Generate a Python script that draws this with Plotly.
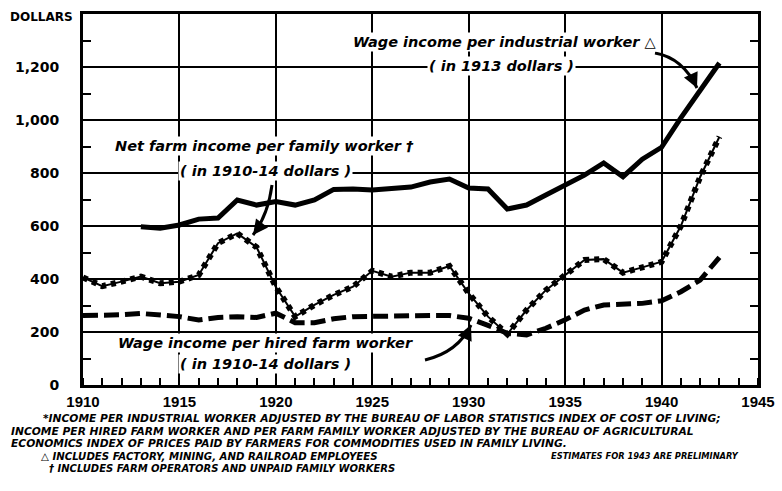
import plotly.graph_objects as go

# ---------------- data ----------------
years_ind = list(range(1913, 1944))
industrial = [597, 592, 604, 626, 630, 698, 679, 692, 679, 698, 738, 740, 736, 742, 747,
              766, 777, 743, 740, 664, 679, 717, 757, 792, 838, 786, 852, 897, 1008, 1115, 1215]

years_farm = list(range(1910, 1944))
farm_family = [406, 373, 390, 409, 384, 390, 415, 535, 572, 520, 370, 258, 302, 340, 371, 431,
               409, 424, 424, 449, 346, 258, 192, 283, 358, 415, 472, 475, 424, 444, 465, 600,
               785, 937]
hired_farm = [262, 262, 265, 270, 265, 258, 245, 255, 258, 255, 271, 235, 235, 250, 258, 260,
              262, 262, 262, 262, 252, 225, 195, 189, 214, 246, 283, 302, 305, 308, 318, 352,
              396, 482]

x_ticks = [1910, 1915, 1920, 1925, 1930, 1935, 1940, 1945]
y_ticks = [0, 200, 400, 600, 800, 1000, 1200]
y_ticktext = ["0", "200", "400", "600", "800", "1,000", "1,200"]

# ---------------- layout geometry ----------------
W, H = 782, 491
L, R, T, B = 83, 24, 14, 106
PW, PH = W - L - R, H - T - B


def px(xp):
    return (xp - L) / PW


def py(yp):
    return (H - B - yp) / PH


def dx(xp):
    return 1910 + (xp - L) / PW * 35


def dy(yp):
    return (H - B - yp) / PH * 1400


fig = go.Figure()

fig.add_trace(go.Scatter(x=years_farm, y=hired_farm, mode="lines",
                         line=dict(color="black", width=5, dash="15px,6px"),
                         hoverinfo="skip", showlegend=False))
fig.add_trace(go.Scatter(x=years_farm, y=farm_family, mode="lines",
                         line=dict(color="black", width=2),
                         hoverinfo="skip", showlegend=False))
fig.add_trace(go.Scatter(x=years_farm, y=farm_family, mode="lines",
                         line=dict(color="black", width=6, dash="5px,5px"),
                         hoverinfo="skip", showlegend=False))
fig.add_trace(go.Scatter(x=years_ind, y=industrial, mode="lines",
                         line=dict(color="black", width=5),
                         hoverinfo="skip", showlegend=False))

lab_font = dict(family="DejaVu Sans", size=14.5, color="black", weight="bold", style="italic")

annotations = []


def label(text, xc, yc):
    annotations.append(dict(text=text, x=dx(xc), y=dy(yc),
                            xref="x", yref="y", showarrow=False, font=lab_font,
                            bgcolor="white", borderpad=1, xanchor="center", yanchor="middle"))


label("Wage income per industrial worker △", 504, 42)
label("( in 1913 dollars )", 501, 66)
label("Net farm income per family worker †", 264, 146)
label("( in 1910-14 dollars )", 265, 171)
label("Wage income per hired farm worker", 265, 343)
label("( in 1910-14 dollars )", 265, 364)

annotations.append(dict(text="DOLLARS", x=px(75), y=py(17), xref="paper", yref="paper",
                        xanchor="right", yanchor="middle", showarrow=False,
                        font=dict(family="DejaVu Sans", size=12, color="black", weight="bold")))


def note(text, xl, yc, size):
    annotations.append(dict(text=text, x=px(xl), y=py(yc), xref="paper", yref="paper",
                            xanchor="left", yanchor="middle", showarrow=False, borderpad=0,
                            font=dict(family="DejaVu Sans", size=size, color="black",
                                      weight="bold", style="italic")))


note("*INCOME PER INDUSTRIAL WORKER ADJUSTED BY THE BUREAU OF LABOR STATISTICS INDEX OF COST OF LIVING;", 42, 418.5, 10.7)
note("INCOME PER HIRED FARM WORKER AND PER FARM FAMILY WORKER ADJUSTED BY THE BUREAU OF AGRICULTURAL", 10, 431, 10.7)
note("ECONOMICS INDEX OF PRICES PAID BY FARMERS FOR COMMODITIES USED IN FAMILY LIVING.", 10, 443.5, 10.7)
note("△ INCLUDES FACTORY, MINING, AND RAILROAD EMPLOYEES", 40, 456, 10.2)
note("ESTIMATES FOR 1943 ARE PRELIMINARY", 550, 456, 8.3)
note("† INCLUDES FARM OPERATORS AND UNPAID FAMILY WORKERS", 48, 468.5, 10.0)

# curved pointer arrows
shapes = []
arrows = [
    ((655, 53), (683, 58), (697, 88), (-5, -11)),
    ((272, 185), (268, 215), (253, 235), (6, -8)),
    ((425, 360), (458, 352), (471, 325), (-5, 11)),
]
for (s, c, e, off) in arrows:
    shapes.append(dict(type="path", xref="x", yref="y",
                       path=f"M {dx(s[0])},{dy(s[1])} Q {dx(c[0])},{dy(c[1])} {dx(e[0])},{dy(e[1])}",
                       line=dict(color="black", width=3), layer="above"))
    annotations.append(dict(x=dx(e[0]), y=dy(e[1]), xref="x", yref="y", text="",
                            showarrow=True, arrowhead=2, arrowsize=1.2, arrowwidth=2.5,
                            arrowcolor="black", ax=off[0], ay=off[1]))

fig.update_layout(
    width=W, height=H, margin=dict(l=L, r=R, t=T, b=B, autoexpand=False),
    paper_bgcolor="white", plot_bgcolor="white",
    annotations=annotations, shapes=shapes,
    xaxis=dict(range=[1910, 1945], tickvals=x_ticks, showgrid=True, gridcolor="black",
               gridwidth=1.5, zeroline=False, showline=True, linecolor="black", linewidth=3,
               mirror=True, ticks="", ticklabelstandoff=1, automargin=False,
               tickfont=dict(family="Liberation Sans", size=15, color="black", weight="bold"),
               minor=dict(dtick=1, ticks="inside", ticklen=7, tickwidth=1.5,
                          tickcolor="black", showgrid=False)),
    yaxis=dict(range=[0, 1400], tickvals=y_ticks, ticktext=y_ticktext, showgrid=True,
               gridcolor="black", gridwidth=1.5, zeroline=False, showline=True,
               linecolor="black", linewidth=3, mirror="ticks", ticks="",
               ticklabelstandoff=18, automargin=False,
               tickfont=dict(family="DejaVu Sans", size=14, color="black", weight="bold"),
               minor=dict(tickvals=[100, 300, 500, 700, 900, 1100, 1300], ticks="inside",
                          ticklen=8, tickwidth=2, tickcolor="black", showgrid=False)),
)

fig.write_html("out.html", config={"displayModeBar": False},
               post_script="document.body.style.margin='0';document.body.style.overflow='hidden';")
